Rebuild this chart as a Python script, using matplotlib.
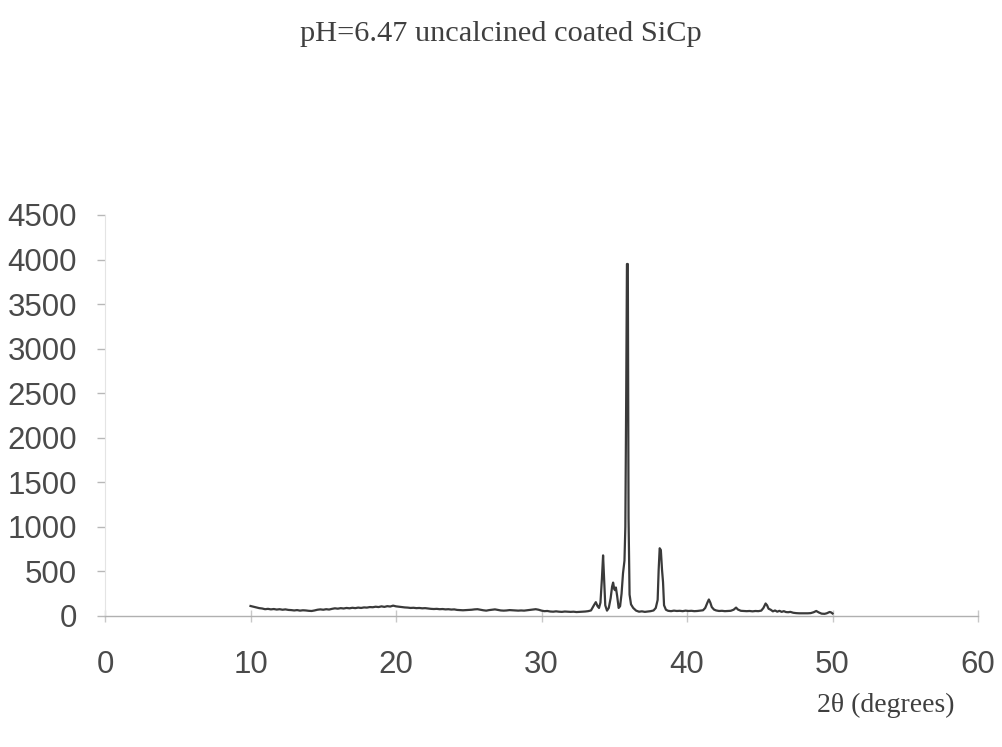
import matplotlib
matplotlib.use("Agg")
import matplotlib.pyplot as plt

# XRD scan of uncalcined coated SiC particles: 2-theta (degrees) vs intensity (counts)
two_theta = [
    10.0, 10.2, 10.4, 10.6, 10.8, 11.0, 11.2, 11.4, 11.6, 11.8,
    12.0, 12.2, 12.4, 12.6, 12.8, 13.0, 13.2, 13.4, 13.6, 13.8,
    14.0, 14.2, 14.4, 14.6, 14.8, 15.0, 15.2, 15.4, 15.6, 15.8,
    16.0, 16.2, 16.4, 16.6, 16.8, 17.0, 17.2, 17.4, 17.6, 17.8,
    18.0, 18.2, 18.4, 18.6, 18.8, 19.0, 19.2, 19.4, 19.6, 19.8,
    20.0, 20.2, 20.4, 20.6, 20.8, 21.0, 21.2, 21.4, 21.6, 21.8,
    22.0, 22.2, 22.4, 22.6, 22.8, 23.0, 23.2, 23.4, 23.6, 23.8,
    24.0, 24.2, 24.4, 24.6, 24.8, 25.0, 25.2, 25.4, 25.6, 25.8,
    26.0, 26.2, 26.4, 26.6, 26.8, 27.0, 27.2, 27.4, 27.6, 27.8,
    28.0, 28.2, 28.4, 28.6, 28.8, 29.0, 29.2, 29.4, 29.6, 29.8,
    30.0, 30.2, 30.4, 30.6, 30.8, 31.0, 31.2, 31.4, 31.6, 31.8,
    32.0, 32.2, 32.4, 32.6, 32.8, 33.0, 33.2, 33.4,
    33.6, 33.73, 33.85, 33.95, 34.05, 34.15, 34.23, 34.3, 34.38, 34.5,
    34.62, 34.75, 34.85, 34.92, 35.0, 35.05, 35.11, 35.2, 35.3, 35.4,
    35.5, 35.6, 35.7, 35.76, 35.82, 35.87, 35.93, 35.98, 36.05, 36.15,
    36.3, 36.5, 36.7, 36.9, 37.1, 37.3, 37.5, 37.7, 37.85, 37.98,
    38.05, 38.12, 38.2, 38.28, 38.35, 38.42, 38.55, 38.7, 38.9, 39.1,
    39.3, 39.5, 39.7, 39.9, 40.1, 40.3, 40.5, 40.7, 40.9, 41.1,
    41.25, 41.4, 41.5, 41.6, 41.7, 41.85, 42.0, 42.2, 42.4, 42.6,
    42.8, 43.0, 43.2, 43.37, 43.5, 43.7, 43.9, 44.1, 44.3, 44.5,
    44.7, 44.9, 45.1, 45.25, 45.4, 45.5, 45.6, 45.75, 45.9, 46.05,
    46.2, 46.35, 46.5, 46.65, 46.8, 46.95, 47.1, 47.3, 47.5, 47.7,
    47.9, 48.1, 48.3, 48.5, 48.7, 48.88, 49.05, 49.25, 49.45, 49.6,
    49.8, 49.9, 50.0,
]
intensity = [
    112, 104, 96, 88, 84, 76, 80, 74, 78, 72,
    76, 70, 74, 68, 66, 62, 66, 60, 64, 62,
    58, 56, 62, 70, 74, 70, 76, 72, 80, 86,
    82, 88, 84, 90, 86, 92, 88, 94, 90, 96,
    94, 100, 98, 104, 100, 108, 102, 110, 106, 116,
    108, 104, 100, 96, 94, 90, 92, 88, 90, 86,
    88, 84, 80, 78, 80, 76, 78, 74, 76, 72,
    74, 68, 66, 64, 66, 68, 70, 74, 76, 70,
    64, 60, 66, 70, 74, 68, 62, 60, 62, 66,
    64, 62, 60, 62, 60, 64, 68, 72, 76, 70,
    60, 54, 56, 50, 48, 52, 48, 46, 50, 48,
    46, 48, 44, 46, 48, 50, 54, 62,
    120, 155, 110, 90, 150, 420, 680, 420, 120, 60,
    90, 200, 330, 375, 300, 290, 320, 220, 90, 110,
    250, 480, 620, 1000, 2500, 3950, 3950, 1100, 240, 130,
    90, 60, 48, 52, 46, 50, 54, 62, 90, 180,
    520, 760, 740, 520, 380, 120, 70, 58, 54, 60,
    56, 58, 54, 60, 56, 58, 54, 56, 60, 64,
    90, 150, 185, 150, 100, 72, 62, 56, 58, 54,
    56, 58, 70, 94, 72, 58, 56, 54, 56, 52,
    56, 54, 60, 90, 140, 120, 82, 70, 52, 62,
    48, 58, 46, 54, 44, 42, 46, 36, 32, 30,
    30, 30, 30, 32, 42, 56, 40, 26, 24, 30,
    45, 40, 28,
]

x_ticks = [0, 10, 20, 30, 40, 50, 60]
y_ticks = [0, 500, 1000, 1500, 2000, 2500, 3000, 3500, 4000, 4500]

fig = plt.figure(figsize=(10.02, 7.47), dpi=100)
ax = fig.add_axes([0.1048, 0.1754, 0.8713, 0.5368])

ax.plot(two_theta, intensity, color="#3a3a3a", lw=1.6, solid_joinstyle="round")

ax.set_xlim(0, 60)
ax.set_ylim(0, 4500)
ax.set_xticks(x_ticks)
ax.set_yticks(y_ticks)

for side in ("top", "right"):
    ax.spines[side].set_visible(False)
ax.spines["bottom"].set_color("#b0b0b0")
ax.spines["bottom"].set_linewidth(1.0)
ax.spines["left"].set_color("#e4e4e4")
ax.spines["left"].set_linewidth(0.8)

ax.tick_params(axis="y", direction="out", length=6, width=1.0, color="#b8b8b8",
               pad=14, labelsize=22.5, labelcolor="#4a4a4a")
ax.tick_params(axis="x", direction="inout", length=9, width=1.0, color="#c8c8c8",
               pad=20, labelsize=22.5, labelcolor="#4a4a4a")
for lab in ax.get_xticklabels() + ax.get_yticklabels():
    lab.set_fontfamily("Liberation Sans")

fig.text(0.5, 0.955, "pH=6.47 uncalcined coated SiCp", ha="center", va="center",
         fontsize=21.9, family="Liberation Serif", color="#3f3f3f")
fig.text(0.953, 0.056, "2\u03b8 (degrees)", ha="right", va="center",
         fontsize=20, family="Liberation Serif", color="#3f3f3f")

fig.savefig("out.png", dpi=100, facecolor="white")
